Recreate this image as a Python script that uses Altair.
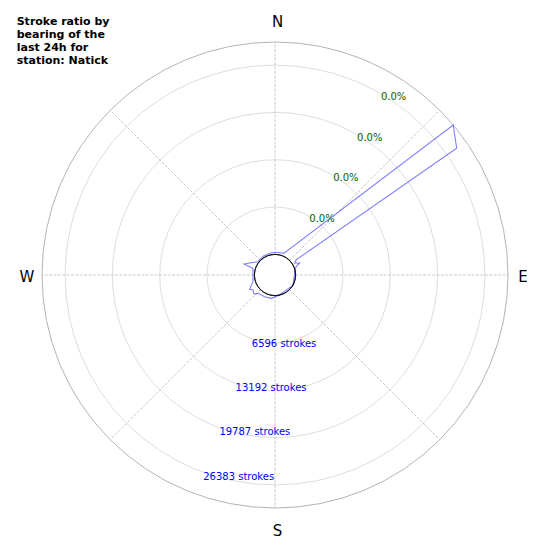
import altair as alt
import pandas as pd
import numpy as np

# ---- data ----
title_lines = ["Stroke ratio by", "bearing of the", "last 24h for", "station: Natick"]

# outline of the stroke-count polygon, in drawing order (bearing in degrees, strokes)
bearing_deg = [0, 10, 22, 49.9, 55.1, 54.3, 58.6, 64.1, 67.8, 75, 120, 170,
               189, 205.4, 222.9, 227.9, 235.7, 240.5, 253.1, 274.4, 286.9,
               289.5, 308, 330, 350, 360]
stroke_count = [270, 310, 380, 29590, 28000, 790, 350, 960, 340, 30, 30, 30,
                420, 480, 620, 1070, 840, 1190, 340, 210, 340,
                1710, 140, 240, 270, 270]

tick_counts = [6596, 13192, 19787, 26383]
stroke_labels = ["6596 strokes", "13192 strokes", "19787 strokes", "26383 strokes"]
ratio_labels = ["0.0%", "0.0%", "0.0%", "0.0%"]
compass_labels = ["N", "E", "S", "W"]
compass_bearing = [0, 90, 180, 270]
spoke_bearing = [0, 45, 90, 135, 180, 225, 270, 315]
r_max_count = 29600

# ---- geometry (pixels) ----
R0 = 20.6      # radius of zero strokes (inner hole)
R_OUT = 233.0  # radius of r_max_count
HALF_X = 260
HALF_Y = 264
FONT = "DejaVu Sans"

rexpr = f"{R0} + datum.count / {r_max_count} * {R_OUT - R0}"
xs = alt.Scale(domain=[-HALF_X, HALF_X], nice=False, zero=False)
ys = alt.Scale(domain=[-HALF_Y, HALF_Y], nice=False, zero=False)
rscale = alt.Scale(type="linear", domain=[0, r_max_count], range=[R0, R_OUT], zero=False)


def polar_xy(chart, rfield="r"):
    return chart.transform_calculate(
        px=f"datum.{rfield} * sin(datum.bearing * PI / 180)",
        py=f"datum.{rfield} * cos(datum.bearing * PI / 180)",
    )


def circle_layer(counts, stroke, width):
    return alt.Chart(pd.DataFrame({"count": counts})).mark_arc(
        theta=0, theta2=2 * np.pi, fillOpacity=0, stroke=stroke, strokeWidth=width
    ).encode(radius=alt.Radius("count:Q", scale=rscale, stack=None))


grid = circle_layer(tick_counts, "#d4d4d4", 0.8)
outer = circle_layer([r_max_count], "#b4b4b4", 1.0)
hole = circle_layer([0], "#000000", 0.7)

spokes = alt.Chart(pd.DataFrame({"bearing": spoke_bearing})).transform_calculate(
    x1=f"{R0} * sin(datum.bearing * PI / 180)",
    y1=f"{R0} * cos(datum.bearing * PI / 180)",
    x2=f"{R_OUT} * sin(datum.bearing * PI / 180)",
    y2=f"{R_OUT} * cos(datum.bearing * PI / 180)",
).mark_rule(color="#bcbcbc", strokeWidth=0.8, strokeDash=[3, 1.4]).encode(
    x=alt.X("x1:Q", scale=xs, axis=None),
    y=alt.Y("y1:Q", scale=ys, axis=None),
    x2="x2:Q",
    y2="y2:Q",
)

line_df = pd.DataFrame({"idx": list(range(len(bearing_deg))),
                        "bearing": bearing_deg, "count": stroke_count})
line = polar_xy(alt.Chart(line_df).transform_calculate(r=rexpr)).mark_line(
    color="#0000ff", opacity=0.5, strokeWidth=1.1
).encode(
    x=alt.X("px:Q", scale=xs, axis=None),
    y=alt.Y("py:Q", scale=ys, axis=None),
    order="idx:Q",
)

ratio_df = pd.DataFrame({"count": tick_counts, "label": ratio_labels, "bearing": [30.3] * 4})
ratio_text = polar_xy(alt.Chart(ratio_df).transform_calculate(r=rexpr)).mark_text(
    align="left", baseline="middle", dy=3, fontSize=10, font=FONT, color="#006400"
).encode(
    x=alt.X("px:Q", scale=xs, axis=None),
    y=alt.Y("py:Q", scale=ys, axis=None),
    text="label:N",
)

stroke_df = pd.DataFrame({"count": tick_counts, "label": stroke_labels, "bearing": [200] * 4})
stroke_text = polar_xy(alt.Chart(stroke_df).transform_calculate(r=rexpr)).mark_text(
    align="left", baseline="middle", dy=4.7, fontSize=10, font=FONT, color="#0000ff"
).encode(
    x=alt.X("px:Q", scale=xs, axis=None),
    y=alt.Y("py:Q", scale=ys, axis=None),
    text="label:N",
)

compass_df = pd.DataFrame({"bearing": compass_bearing, "label": compass_labels})
compass = alt.Chart(compass_df).transform_calculate(
    vert="datum.bearing % 180 == 0",
).transform_calculate(
    rr="datum.vert ? 254.5 : 248",
).transform_calculate(
    px="datum.rr * sin(datum.bearing * PI / 180) + (datum.vert ? 2.5 : 0)",
    py="datum.rr * cos(datum.bearing * PI / 180)",
).mark_text(
    align="center", baseline="middle", dy=1.5, fontSize=15, font=FONT, color="#000000"
).encode(
    x=alt.X("px:Q", scale=xs, axis=None),
    y=alt.Y("py:Q", scale=ys, axis=None),
    text="label:N",
)

title = alt.Chart(pd.DataFrame({"k": [0]})).mark_text(
    text=title_lines, align="left", baseline="alphabetic", fontSize=11,
    fontWeight="bold", font=FONT, lineHeight=13, color="#000000"
).encode(x=alt.value(1.7), y=alt.value(13.7))

chart = alt.layer(
    grid, spokes, outer, line, hole, ratio_text, stroke_text, compass, title
).properties(
    width=2 * HALF_X,
    height=2 * HALF_Y,
    padding={"left": 7, "top": 3, "right": 0, "bottom": 0},
    autosize=alt.AutoSizeParams(type="none"),
).configure_view(strokeWidth=0)

chart.save("out.html", embed_options={"renderer": "svg", "actions": False})
